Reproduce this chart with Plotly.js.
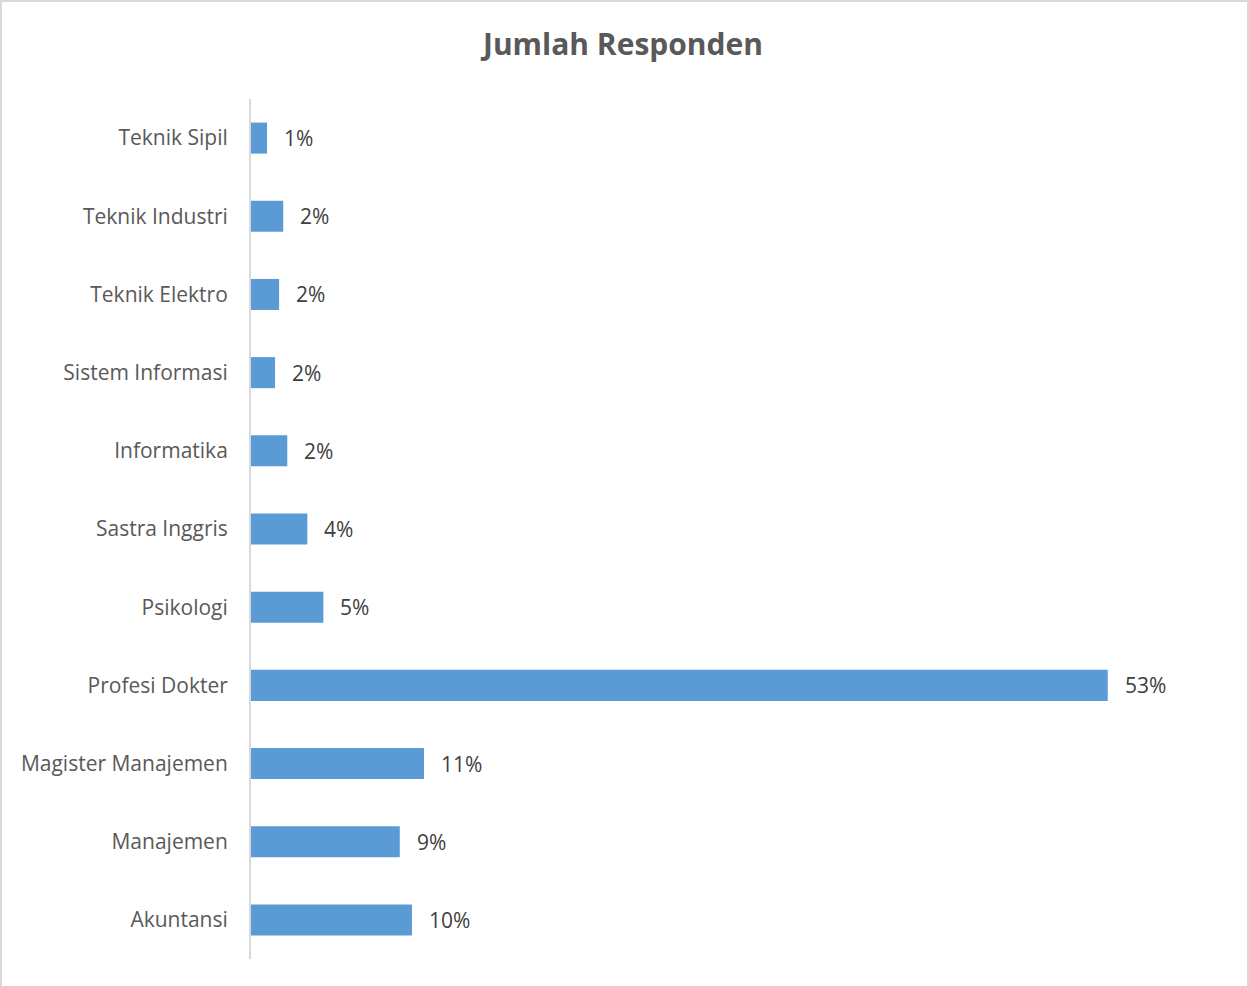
<!DOCTYPE html>
<html>
<head>
<meta charset="utf-8">
<script src="https://cdn.plot.ly/plotly-3.0.1.min.js"></script>
<style>
  html, body { margin: 0; padding: 0; background: #ffffff; }
  #wrap { position: relative; width: 1249px; height: 986px; }
  #chart { position: absolute; left: 0; top: 0; width: 1249px; height: 986px; }
  #frame { position: absolute; left: 0; top: 0; width: 1249px; height: 990px;
           border: 2px solid #d9d9d9; border-bottom: none; box-sizing: border-box;
           pointer-events: none; }
</style>
</head>
<body>
<div id="wrap">
  <div id="chart"></div>
  <div id="frame"></div>
</div>
<script>
// Categories listed bottom to top (as drawn on the y axis)
const categories = [
  "Akuntansi",
  "Manajemen",
  "Magister Manajemen",
  "Profesi Dokter",
  "Psikologi",
  "Sastra Inggris",
  "Informatika",
  "Sistem Informasi",
  "Teknik Elektro",
  "Teknik Industri",
  "Teknik Sipil"
];
// Share of respondents, in percent
const percentValues = [10.03, 9.27, 10.78, 53.38, 4.51, 3.51, 2.26, 1.50, 1.75, 2.01, 1.00];
// Data labels as shown on the chart
const percentLabels = ["10%", "9%", "11%", "53%", "5%", "4%", "2%", "2%", "2%", "2%", "1%"];

const trace = {
  type: "bar",
  orientation: "h",
  y: categories,
  x: percentValues,
  marker: { color: "#5b9bd5", line: { color: "#5b9bd5", width: 0 } },
  hoverinfo: "skip"
};

const annotations = categories.map((c, i) => ({
  x: percentValues[i],
  y: c,
  xref: "x",
  yref: "y",
  text: percentLabels[i],
  showarrow: false,
  xanchor: "left",
  yanchor: "middle",
  xshift: 15,
  yshift: 0,
  font: { family: "Open Sans, sans-serif", size: 21, color: "#404040" }
}));

const layout = {
  width: 1249,
  height: 986,
  paper_bgcolor: "#ffffff",
  plot_bgcolor: "#ffffff",
  margin: { l: 251, r: 35, t: 99, b: 27, pad: 0 },
  title: {
    text: "Jumlah Responden",
    font: { family: "Open Sans, sans-serif", size: 30, color: "#595959", weight: "bold" },
    x: 623 / 1249,
    xanchor: "center",
    xref: "container",
    y: 1 - 44 / 986,
    yanchor: "middle",
    yref: "container"
  },
  bargap: 0.603,
  showlegend: false,
  xaxis: {
    range: [0, 60],
    showgrid: false,
    zeroline: false,
    showline: false,
    showticklabels: false,
    ticks: ""
  },
  yaxis: {
    type: "category",
    showgrid: false,
    zeroline: false,
    showline: true,
    linecolor: "#d9d9d9",
    linewidth: 2,
    ticks: "",
    ticklabelstandoff: 17,
    tickfont: { family: "Open Sans, sans-serif", size: 21, color: "#595959" }
  },
  annotations: annotations
};

Plotly.newPlot("chart", [trace], layout, { displayModeBar: false, staticPlot: true });
</script>
</body>
</html>
